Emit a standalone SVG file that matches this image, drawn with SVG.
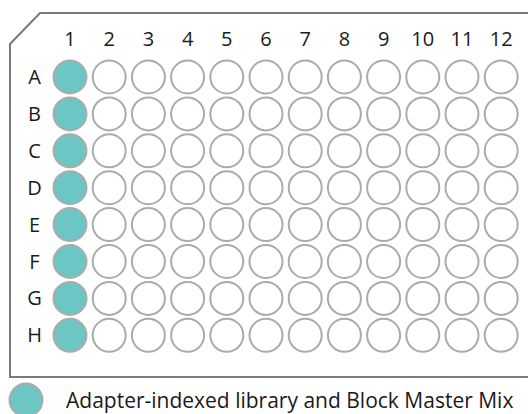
<svg xmlns="http://www.w3.org/2000/svg" width="528" height="414" viewBox="0 0 528 414">
<style>
.t{font-family:"Open Sans","Liberation Sans",sans-serif;font-size:20px;fill:#1a1a1a}
.c{text-anchor:middle}
.w{fill:#fff;stroke:#ababab;stroke-width:2}
.f{fill:#6cc6c4;stroke:#ababab;stroke-width:2}
</style>
<rect width="528" height="414" fill="#fff"/>
<g id="plate">
<path d="M540 13 H40 L10 44 V377 H540" fill="none" stroke="#7a7a7a" stroke-width="2"/>
</g>
<g id="colLabels" class="t c">
<text x="70" y="46">1</text><text x="109.2" y="46">2</text><text x="148.4" y="46">3</text><text x="187.6" y="46">4</text><text x="226.8" y="46">5</text><text x="266" y="46">6</text><text x="305.2" y="46">7</text><text x="344.4" y="46">8</text><text x="383.6" y="46">9</text><text x="422.8" y="46">10</text><text x="462" y="46">11</text><text x="501.2" y="46">12</text>
</g>
<g id="rowLabels" class="t c">
<text x="34.5" y="84">A</text><text x="34.5" y="120.9">B</text><text x="34.5" y="157.8">C</text><text x="34.5" y="194.7">D</text><text x="34.5" y="231.6">E</text><text x="34.5" y="268.5">F</text><text x="34.5" y="305.4">G</text><text x="34.5" y="342.3">H</text>
</g>
<defs>
<g id="row">
<circle class="f" cx="70" cy="0" r="16.5"/>
<circle class="w" cx="109.2" cy="0" r="16.5"/>
<circle class="w" cx="148.4" cy="0" r="16.5"/>
<circle class="w" cx="187.6" cy="0" r="16.5"/>
<circle class="w" cx="226.8" cy="0" r="16.5"/>
<circle class="w" cx="266" cy="0" r="16.5"/>
<circle class="w" cx="305.2" cy="0" r="16.5"/>
<circle class="w" cx="344.4" cy="0" r="16.5"/>
<circle class="w" cx="383.6" cy="0" r="16.5"/>
<circle class="w" cx="422.8" cy="0" r="16.5"/>
<circle class="w" cx="462" cy="0" r="16.5"/>
<circle class="w" cx="501.2" cy="0" r="16.5"/>
</g>
</defs>
<g id="wells">
<use href="#row" y="77"/>
<use href="#row" y="113.9"/>
<use href="#row" y="150.8"/>
<use href="#row" y="187.7"/>
<use href="#row" y="224.6"/>
<use href="#row" y="261.5"/>
<use href="#row" y="298.4"/>
<use href="#row" y="335.3"/>
</g>
<g id="legend">
<circle class="f" cx="26" cy="400" r="16.5"/>
<text class="t" x="66" y="408" style="font-size:21px">Adapter-indexed library and Block Master Mix</text>
</g>
</svg>
